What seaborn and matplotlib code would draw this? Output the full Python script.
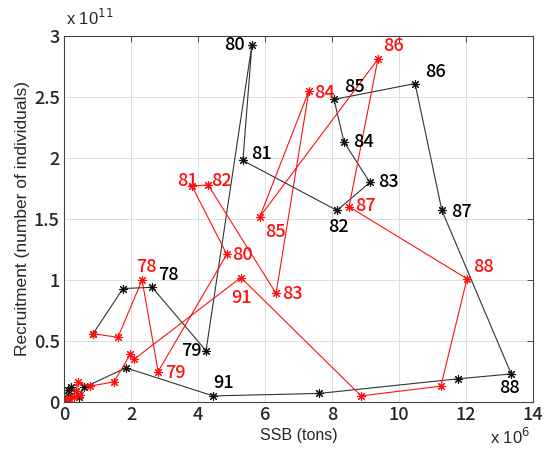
import matplotlib
matplotlib.use("Agg")
import matplotlib.pyplot as plt
import seaborn as sns
import pandas as pd

# Black series (SSB in 1e6 tons, recruitment in 1e11 individuals)
black_ssb = [0.87, 1.76, 2.63, 4.24, 5.61, 5.34, 8.15, 9.13, 8.36, 8.06, 10.48, 11.28, 13.35,
             11.76, 7.61, 4.45, 1.85, 0.60, 0.45, 0.35, 0.20, 0.12, 0.15, 0.08]
black_rec = [0.56, 0.93, 0.94, 0.42, 2.93, 1.98, 1.57, 1.80, 2.13, 2.48, 2.61, 1.57, 0.23,
             0.19, 0.07, 0.05, 0.28, 0.12, 0.04, 0.09, 0.12, 0.10, 0.05, 0.03]
black_years = [76, 77, 78, 79, 80, 81, 82, 83, 84, 85, 86, 87, 88,
               89, 90, 91, 92, 93, 94, 95, 96, 97, 98, 99]

# Red series
red_ssb = [0.87, 1.61, 2.33, 2.81, 4.86, 3.82, 4.30, 6.33, 7.31, 5.85, 9.37, 8.51, 12.03,
           11.25, 8.87, 5.28, 2.09, 1.98, 1.49, 0.78, 0.42, 0.35, 0.48, 0.30, 0.15, 0.05, 0.10, 0.02]
red_rec = [0.56, 0.53, 1.00, 0.25, 1.21, 1.77, 1.78, 0.89, 2.55, 1.52, 2.81, 1.60, 1.01,
           0.13, 0.05, 1.02, 0.35, 0.39, 0.165, 0.13, 0.16, 0.09, 0.06, 0.04, 0.03, 0.015, 0.02, 0.01]
red_years = list(range(76, 76 + len(red_ssb)))

black_labels = ["78", "79", "80", "81", "82", "83", "84", "85", "86", "87", "88", "91"]
red_labels = ["78", "79", "80", "81", "82", "83", "84", "85", "86", "87", "88", "91"]

# label offsets (pixels)
black_off = {"78": (16, 12), "79": (-15, 0), "80": (-17, 0), "81": (19, 6), "82": (1, -17),
             "83": (19, 0), "84": (19, 0), "85": (20, 12), "86": (20, 12), "87": (20, -2),
             "88": (-2, -14), "91": (10, 13)}
red_off = {"78": (4, 13), "79": (17, -1), "80": (16, -1), "81": (-5, 5), "82": (13, 4),
           "83": (16, -1), "84": (16, -2), "85": (16, -15), "86": (16, 13), "87": (16, 1),
           "88": (16, 12), "91": (1, -20)}

x_ticks = [0, 2, 4, 6, 8, 10, 12, 14]
y_ticks = [0, 0.5, 1, 1.5, 2, 2.5, 3]
y_ticklabels = ["0", "0.5", "1", "1.5", "2", "2.5", "3"]

sns.set_style("white")
plt.rcParams['font.family'] = ['Liberation Sans', 'DejaVu Sans']
num_font = ['Noto Sans CJK JP', 'DejaVu Sans']

fig = plt.figure(figsize=(5.58, 4.5), dpi=100)
ax = fig.add_axes([64 / 558, 1 - 402 / 450, (533 - 64) / 558, (402 - 36) / 450])

dfb = pd.DataFrame({"ssb": black_ssb, "rec": black_rec})
dfr = pd.DataFrame({"ssb": red_ssb, "rec": red_rec})
ast = (8, 2, 0)
sns.lineplot(data=dfb, x="ssb", y="rec", sort=False, estimator=None, color="#333333",
             lw=0.8, marker=ast, markersize=6.5, markeredgewidth=0.8,
             markeredgecolor="#111111", ax=ax)
sns.lineplot(data=dfr, x="ssb", y="rec", sort=False, estimator=None, color="#ff1010",
             lw=0.8, marker=ast, markersize=6.5, markeredgewidth=0.8,
             markeredgecolor="#ff1010", ax=ax)

for lab in black_labels:
    i = black_years.index(int(lab))
    ax.annotate(lab, (black_ssb[i], black_rec[i]), xytext=black_off[lab],
                textcoords="offset pixels", ha="center", va="center",
                fontsize=13, color="black", family=num_font, weight="medium")
for lab in red_labels:
    i = red_years.index(int(lab))
    ax.annotate(lab, (red_ssb[i], red_rec[i]), xytext=red_off[lab],
                textcoords="offset pixels", ha="center", va="center",
                fontsize=13, color="#ff1010", family=num_font, weight="medium")

ax.set_xlim(0, 14)
ax.set_ylim(0, 3)
ax.set_xticks(x_ticks)
ax.set_xticklabels([str(t) for t in x_ticks], family=num_font, weight="medium")
ax.set_yticks(y_ticks)
ax.set_yticklabels(y_ticklabels, family=num_font, weight="medium")
ax.grid(True, color="#dddddd", lw=0.7)
ax.set_axisbelow(True)
ax.tick_params(direction="in", top=True, right=True, length=4, width=0.6,
               labelsize=13, pad=3, color="#333333")
for s in ax.spines.values():
    s.set_color("#444444")
    s.set_linewidth(0.8)

ax.set_xlabel("SSB (tons)", fontsize=11.5, labelpad=3)
ax.set_ylabel("Recruitment (number of individuals)", fontsize=12.5, labelpad=3)

fig.text(66 / 558, 1 - 18 / 450, r"x 10$^{11}$", fontsize=12, ha="left", va="center")
fig.text(530 / 558, 1 - 437 / 450, r"x 10$^{6}$", fontsize=12, ha="right", va="center")

fig.savefig("out.png", dpi=100)
